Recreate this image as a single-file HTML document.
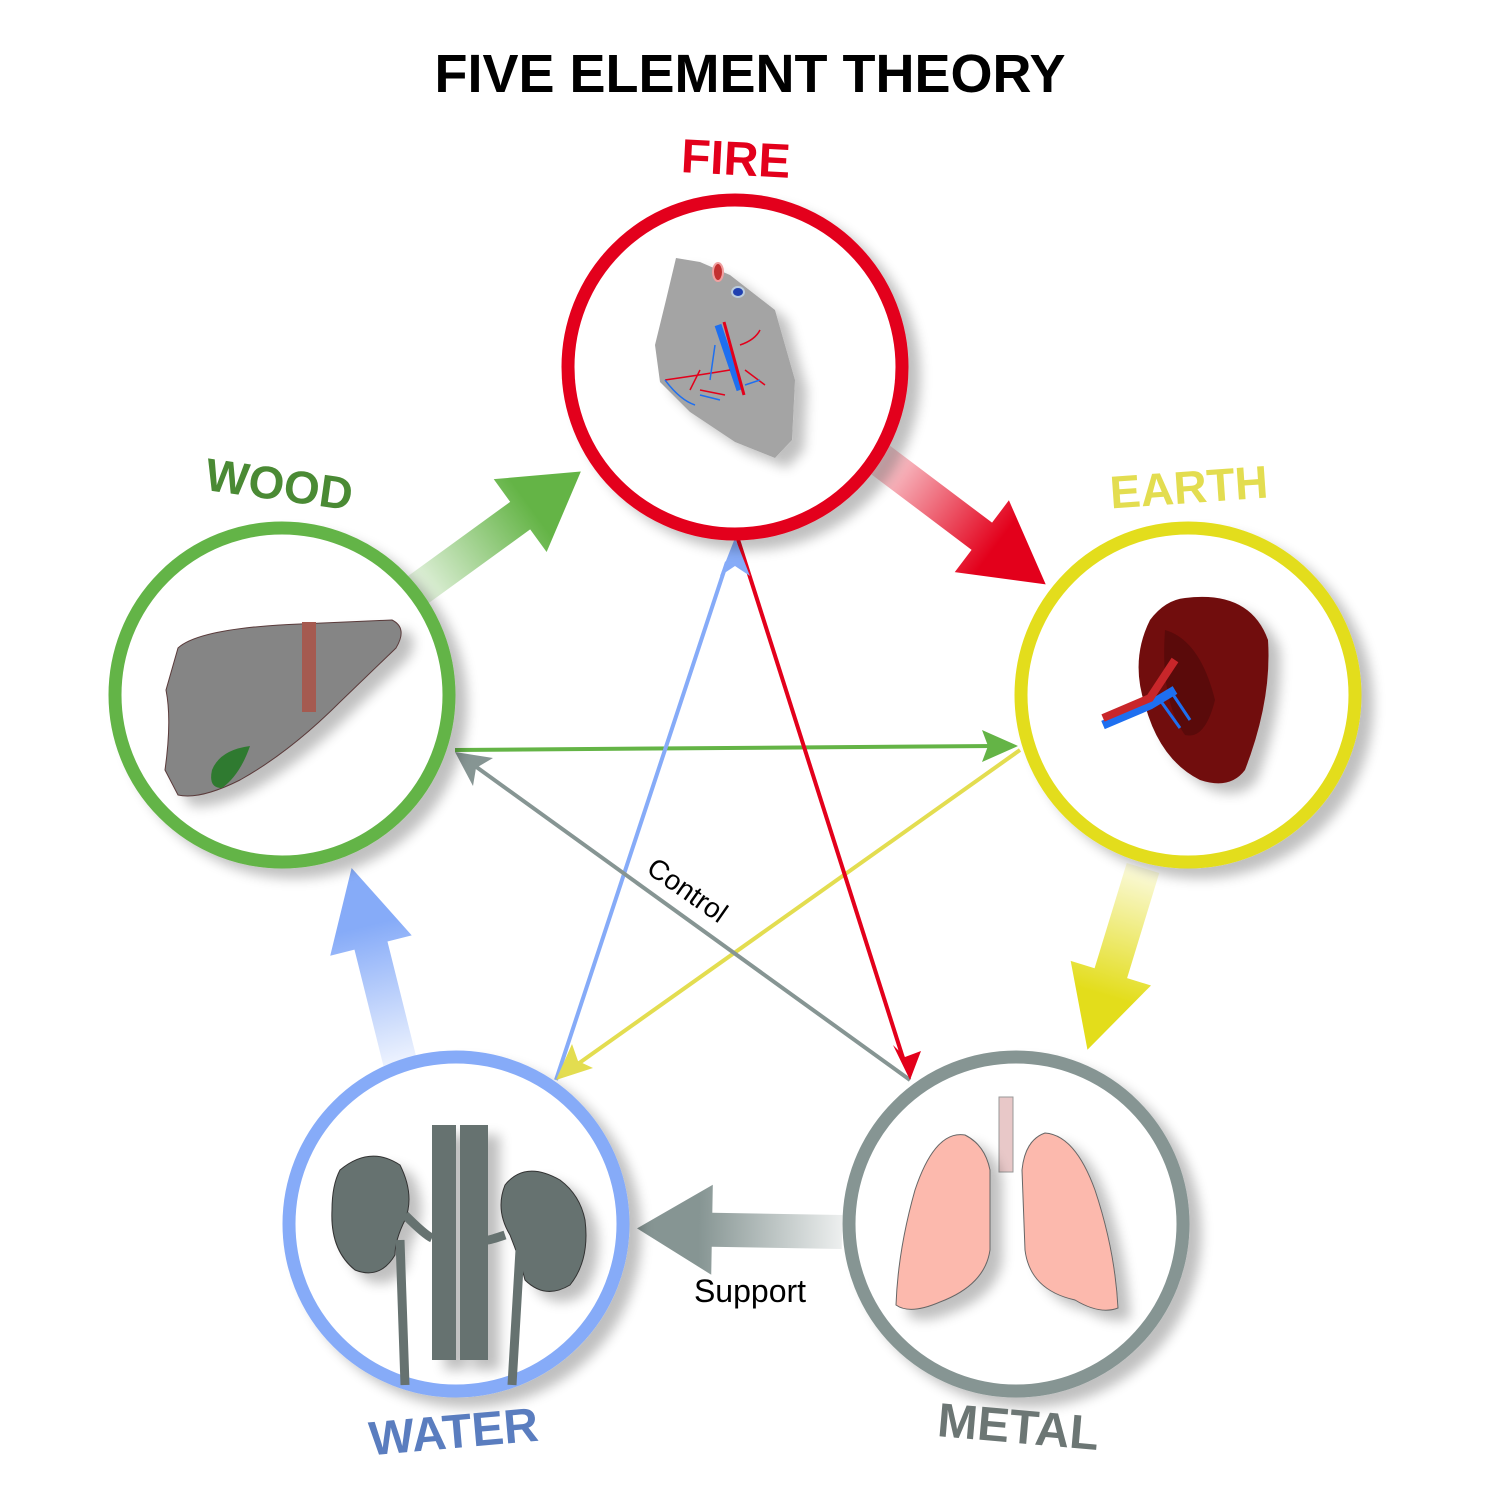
<!DOCTYPE html>
<html><head><meta charset="utf-8"><style>body{margin:0;background:#fff}svg{display:block}</style></head><body>
<svg width="1500" height="1500" viewBox="0 0 1500 1500" xmlns="http://www.w3.org/2000/svg">
<defs>
<filter id="sh" x="-20%" y="-20%" width="150%" height="150%"><feGaussianBlur in="SourceAlpha" stdDeviation="6"/><feOffset dx="12" dy="10"/><feComponentTransfer><feFuncA type="linear" slope="0.25"/></feComponentTransfer><feMerge><feMergeNode/><feMergeNode in="SourceGraphic"/></feMerge></filter>
<linearGradient id="gG" x1="0" x2="1"><stop offset="0" stop-color="#64b446" stop-opacity="0.15"/><stop offset="0.7" stop-color="#64b446"/></linearGradient>
<linearGradient id="gR" x1="0" x2="1"><stop offset="0" stop-color="#e3001b" stop-opacity="0.15"/><stop offset="0.7" stop-color="#e3001b"/></linearGradient>
<linearGradient id="gY" x1="0" x2="1"><stop offset="0" stop-color="#e3dd1b" stop-opacity="0.15"/><stop offset="0.7" stop-color="#e3dd1b"/></linearGradient>
<linearGradient id="gM" x1="0" x2="1"><stop offset="0" stop-color="#869593" stop-opacity="0.15"/><stop offset="0.7" stop-color="#869593"/></linearGradient>
<linearGradient id="gB" x1="0" x2="1"><stop offset="0" stop-color="#86abf8" stop-opacity="0.15"/><stop offset="0.7" stop-color="#86abf8"/></linearGradient>
<symbol id="big" viewBox="0 0 200 100" preserveAspectRatio="none" overflow="visible"></symbol>
</defs>
<style>text{font-family:"Liberation Sans",sans-serif;font-weight:bold}</style>
<text x="750" y="92" text-anchor="middle" font-size="54" fill="#000">FIVE ELEMENT THEORY</text>

<!-- big support arrows: path along x from 0 to L -->
<g transform="translate(415,592) rotate(-36)"><path d="M0,-17 L130,-17 L130,-45 L205,0 L130,45 L130,17 L0,17Z" fill="url(#gG)"/></g>
<g transform="translate(878,458) rotate(37)"><path d="M0,-17 L130,-17 L130,-45 L210,0 L130,45 L130,17 L0,17Z" fill="url(#gR)"/></g>
<g transform="translate(1143,868) rotate(107)"><path d="M0,-17 L110,-17 L110,-42 L190,0 L110,42 L110,17 L0,17Z" fill="url(#gY)"/></g>
<g transform="translate(842,1232) rotate(181)"><path d="M0,-17 L130,-17 L130,-45 L205,0 L130,45 L130,17 L0,17Z" fill="url(#gM)"/></g>
<g transform="translate(400,1062) rotate(-104)"><path d="M0,-17 L120,-17 L120,-42 L200,0 L120,42 L120,17 L0,17Z" fill="url(#gB)"/></g>

<!-- thin control arrows -->
<g stroke-width="4" fill="none">
<line x1="455" y1="750" x2="995" y2="746" stroke="#64b446"/>
<line x1="1020" y1="750" x2="575" y2="1066" stroke="#e3dd50"/>
<line x1="556" y1="1080" x2="727" y2="562" stroke="#86abf8"/>
<line x1="735" y1="530" x2="903" y2="1058" stroke="#e3001b"/>
<line x1="910" y1="1080" x2="475" y2="766" stroke="#869593"/>
</g>
<polygon points="1018,746 982,730 988,746 982,762" fill="#64b446"/>
<polygon points="556,1080 572,1044 578,1061 593,1068" fill="#e3dd50"/>
<polygon points="735,538 720,576 735,566 750,576" fill="#86abf8"/>
<polygon points="910,1080 893,1045 905,1057 921,1051" fill="#e3001b"/>
<polygon points="455,752 473,786 476,768 493,758" fill="#869593"/>
<text x="0" y="0" font-size="28" font-weight="normal" style="font-weight:normal" transform="translate(645,872) rotate(35)">Control</text>
<text x="750" y="1302" text-anchor="middle" font-size="32" style="font-weight:normal">Support</text>

<!-- circles -->
<g fill="#fff" stroke-width="13" filter="url(#sh)">
<circle cx="735" cy="367" r="167" stroke="#e3001b"/>
<circle cx="1188" cy="695" r="167" stroke="#e3dd1b"/>
<circle cx="282" cy="695" r="167" stroke="#64b446"/>
<circle cx="456" cy="1224" r="167" stroke="#86abf8"/>
<circle cx="1016" cy="1224" r="167" stroke="#869593"/>
</g>

<!-- labels -->
<text transform="translate(735,175) rotate(3)" text-anchor="middle" font-size="48" fill="#e3001b">FIRE</text>
<text transform="translate(277,500) rotate(8)" text-anchor="middle" font-size="46" fill="#4a8a34">WOOD</text>
<text transform="translate(1190,503) rotate(-4)" text-anchor="middle" font-size="46" fill="#e3dd50">EARTH</text>
<text transform="translate(455,1448) rotate(-5)" text-anchor="middle" font-size="48" fill="#5a7dbf">WATER</text>
<text transform="translate(1017,1443) rotate(5)" text-anchor="middle" font-size="48" fill="#6c7674">METAL</text>

<!-- heart -->
<g filter="url(#sh)">
<path d="M676,258 L700,262 L730,275 L775,310 L795,380 L792,440 L775,458 L735,442 L690,412 L660,382 L655,345 L666,300 Z" fill="#a4a4a4"/>
</g>
<ellipse cx="718" cy="272" rx="5" ry="9" fill="#c23030" stroke="#f0a0a0" stroke-width="2"/>
<ellipse cx="738" cy="292" rx="6" ry="5" fill="#2040b0" stroke="#bcd" stroke-width="2"/>
<path d="M718,325 L740,390" stroke="#1e6ff0" stroke-width="7"/>
<path d="M724,322 L744,395" stroke="#e3001b" stroke-width="3"/>
<path d="M665,380 Q700,375 730,370 M690,390 L700,370 M740,345 Q755,340 760,330 M745,370 L765,385 M700,390 L725,395" stroke="#e3001b" stroke-width="1.5" fill="none"/>
<path d="M665,380 Q680,400 695,405 M715,345 L710,380 M745,385 L760,380 M700,395 L720,400" stroke="#1e6ff0" stroke-width="1.5" fill="none"/>

<!-- liver -->
<g filter="url(#sh)">
<path d="M178,648 Q200,628 300,624 L392,620 Q408,628 396,648 L340,702 Q290,752 240,780 Q200,800 178,795 L165,770 Q172,720 166,690 Z" fill="#858585" stroke="#5a3a3a" stroke-width="1"/>
</g>
<rect x="302" y="622" width="14" height="90" fill="#a55a50"/>
<path d="M212,770 Q220,750 250,746 Q240,775 222,788 Q208,788 212,770Z" fill="#2f7a30"/>

<!-- spleen -->
<g filter="url(#sh)">
<path d="M1185,598 Q1250,590 1268,640 Q1272,700 1245,770 Q1230,790 1200,780 Q1160,760 1145,705 Q1130,660 1150,620 Q1165,600 1185,598Z" fill="#710d0d"/>
</g>
<path d="M1165,630 Q1200,640 1215,700 Q1205,740 1185,735 Q1160,700 1165,630Z" fill="#5a0a0a"/>
<path d="M1103,725 L1150,705 L1175,690" stroke="#1e6ff0" stroke-width="9" fill="none"/>
<path d="M1103,718 L1150,698 L1175,660" stroke="#c8262a" stroke-width="8" fill="none"/>
<path d="M1170,690 L1190,720 M1160,700 L1180,728" stroke="#1e6ff0" stroke-width="3" fill="none"/>

<!-- kidneys -->
<g filter="url(#sh)">
<path d="M340,1170 Q370,1145 400,1165 Q415,1195 405,1220 Q395,1240 395,1255 Q380,1280 355,1270 Q330,1250 332,1210 Q332,1185 340,1170Z" fill="#667270" stroke="#333" stroke-width="1"/>
<path d="M560,1180 Q525,1160 505,1185 Q495,1210 510,1235 Q520,1260 525,1280 Q545,1300 570,1285 Q590,1260 585,1220 Q580,1195 560,1180Z" fill="#667270" stroke="#333" stroke-width="1"/>
<rect x="432" y="1125" width="24" height="235" fill="#667270"/>
<rect x="460" y="1125" width="28" height="235" fill="#667270"/>
</g>
<path d="M405,1215 Q425,1235 432,1238 M400,1240 L405,1385 M505,1235 Q490,1240 488,1240 M520,1250 L512,1385" stroke="#667270" stroke-width="9" fill="none"/>

<!-- lungs -->
<rect x="999" y="1097" width="14" height="75" fill="#e8c8c8" stroke="#999" stroke-width="1"/>
<g filter="url(#sh)">
<path d="M990,1170 Q985,1145 965,1135 Q935,1130 915,1190 Q898,1250 896,1305 Q910,1315 940,1302 Q985,1285 990,1250 Z" fill="#fcb9ad" stroke="#666" stroke-width="1"/>
<path d="M1022,1170 Q1025,1140 1045,1133 Q1075,1135 1095,1190 Q1115,1250 1118,1308 Q1100,1315 1075,1300 Q1030,1290 1025,1250 Z" fill="#fcb9ad" stroke="#666" stroke-width="1"/>
</g>
</svg>
</body></html>
